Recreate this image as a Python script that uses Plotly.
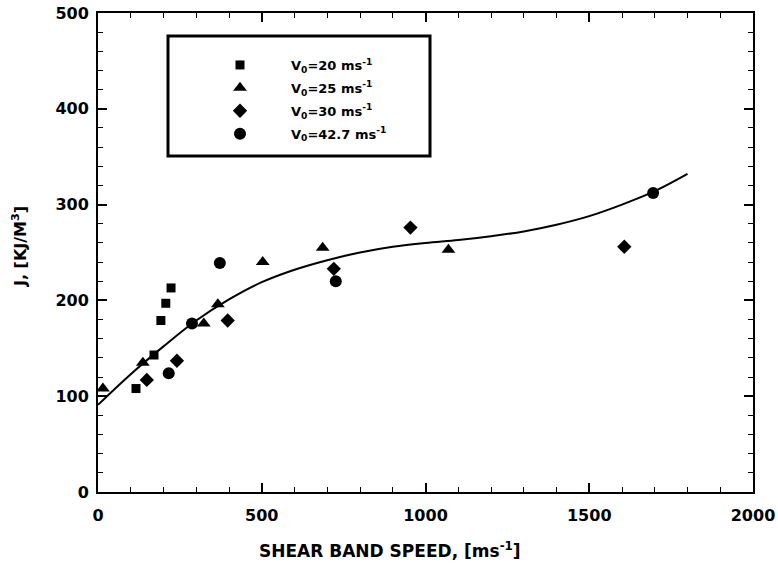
import plotly.graph_objects as go

# Measured points per impact velocity
sq_x = [116, 171, 192, 207, 223]
sq_y = [108, 143, 179, 197, 213]

tri_x = [15, 137, 323, 366, 503, 686, 1070]
tri_y = [108, 135, 176, 196, 240, 255, 253]

dia_x = [149, 241, 396, 720, 954, 1607]
dia_y = [117, 137, 179, 233, 276, 256]

cir_x = [216, 287, 372, 726, 1695]
cir_y = [124, 176, 239, 220, 312]

# Trend curve through the data
fit_x = [0, 100, 200, 300, 400, 500, 600, 700, 800, 900, 1000, 1100, 1200,
         1300, 1400, 1500, 1600, 1700, 1800]
fit_y = [91, 123, 152, 179, 201, 219, 232, 242, 250, 256, 260, 263, 267,
         272, 279, 288, 300, 314, 332]

series_names = ["V<sub>0</sub>=20 ms<sup>-1</sup>",
                "V<sub>0</sub>=25 ms<sup>-1</sup>",
                "V<sub>0</sub>=30 ms<sup>-1</sup>",
                "V<sub>0</sub>=42.7 ms<sup>-1</sup>"]

FONT = "DejaVu Sans, Verdana, sans-serif"

fig = go.Figure()
fig.add_trace(go.Scatter(x=fit_x, y=fit_y, mode="lines", line_shape="spline",
                         line=dict(color="black", width=2), showlegend=False))

specs = [(sq_x, sq_y, "square", 9), (tri_x, tri_y, "triangle-up", 12),
         (dia_x, dia_y, "diamond", 11), (cir_x, cir_y, "circle", 12)]
for i, ((xs, ys, sym, sz), name) in enumerate(zip(specs, series_names)):
    fig.add_trace(go.Scatter(x=xs, y=ys, mode="markers", name=name, legendgroup=f"g{i}",
                             marker=dict(symbol=sym, size=sz, color="black")))

axis_common = dict(showline=True, linecolor="black", linewidth=2, mirror="ticks",
                   ticks="inside", tickcolor="black", tickwidth=1.5, ticklen=9,
                   showgrid=False, zeroline=False, automargin=False,
                   tickfont=dict(family=FONT, size=16, color="black", weight="bold"))

fig.update_xaxes(range=[0, 2000], tick0=0, dtick=500, ticklabelstandoff=8,
                 minor=dict(ticks="inside", dtick=100, ticklen=5, tickcolor="black", tickwidth=1),
                 **axis_common)
fig.update_yaxes(range=[0, 500], tick0=0, dtick=100, ticklabelstandoff=4,
                 minor=dict(ticks="inside", dtick=20, ticklen=5, tickcolor="black", tickwidth=1),
                 **axis_common)

# Legend frame
fig.add_shape(type="rect", xref="paper", yref="paper",
              x0=(168 - 98) / 655, x1=(430 - 98) / 655,
              y0=(492 - 156) / 479, y1=(492 - 36) / 479,
              line=dict(color="black", width=3), fillcolor="rgba(0,0,0,0)")

fig.add_annotation(text="SHEAR BAND SPEED, [ms<sup>-1</sup>]", xref="paper", yref="paper",
                   x=(390 - 98) / 655, y=(492 - 550) / 479, showarrow=False,
                   xanchor="center", yanchor="middle",
                   font=dict(family=FONT, size=17, color="black", weight="bold"))
fig.add_annotation(text="J, [KJ/M<sup>3</sup>]", xref="paper", yref="paper",
                   x=(19 - 98) / 655, y=(492 - 247) / 479, showarrow=False, textangle=-90,
                   xanchor="center", yanchor="middle",
                   font=dict(family=FONT, size=16, color="black", weight="bold"))

fig.update_layout(
    width=778, height=565,
    margin=dict(l=98, r=25, t=13, b=73),
    plot_bgcolor="white", paper_bgcolor="white",
    showlegend=True,
    legend=dict(x=(189 - 98) / 655, y=(492 - 50) / 479, xanchor="left", yanchor="top",
                bgcolor="rgba(0,0,0,0)", borderwidth=0, itemwidth=92,
                tracegroupgap=3,
                font=dict(family=FONT, size=13, color="black", weight="bold")),
)

fig.write_html("out.html")
